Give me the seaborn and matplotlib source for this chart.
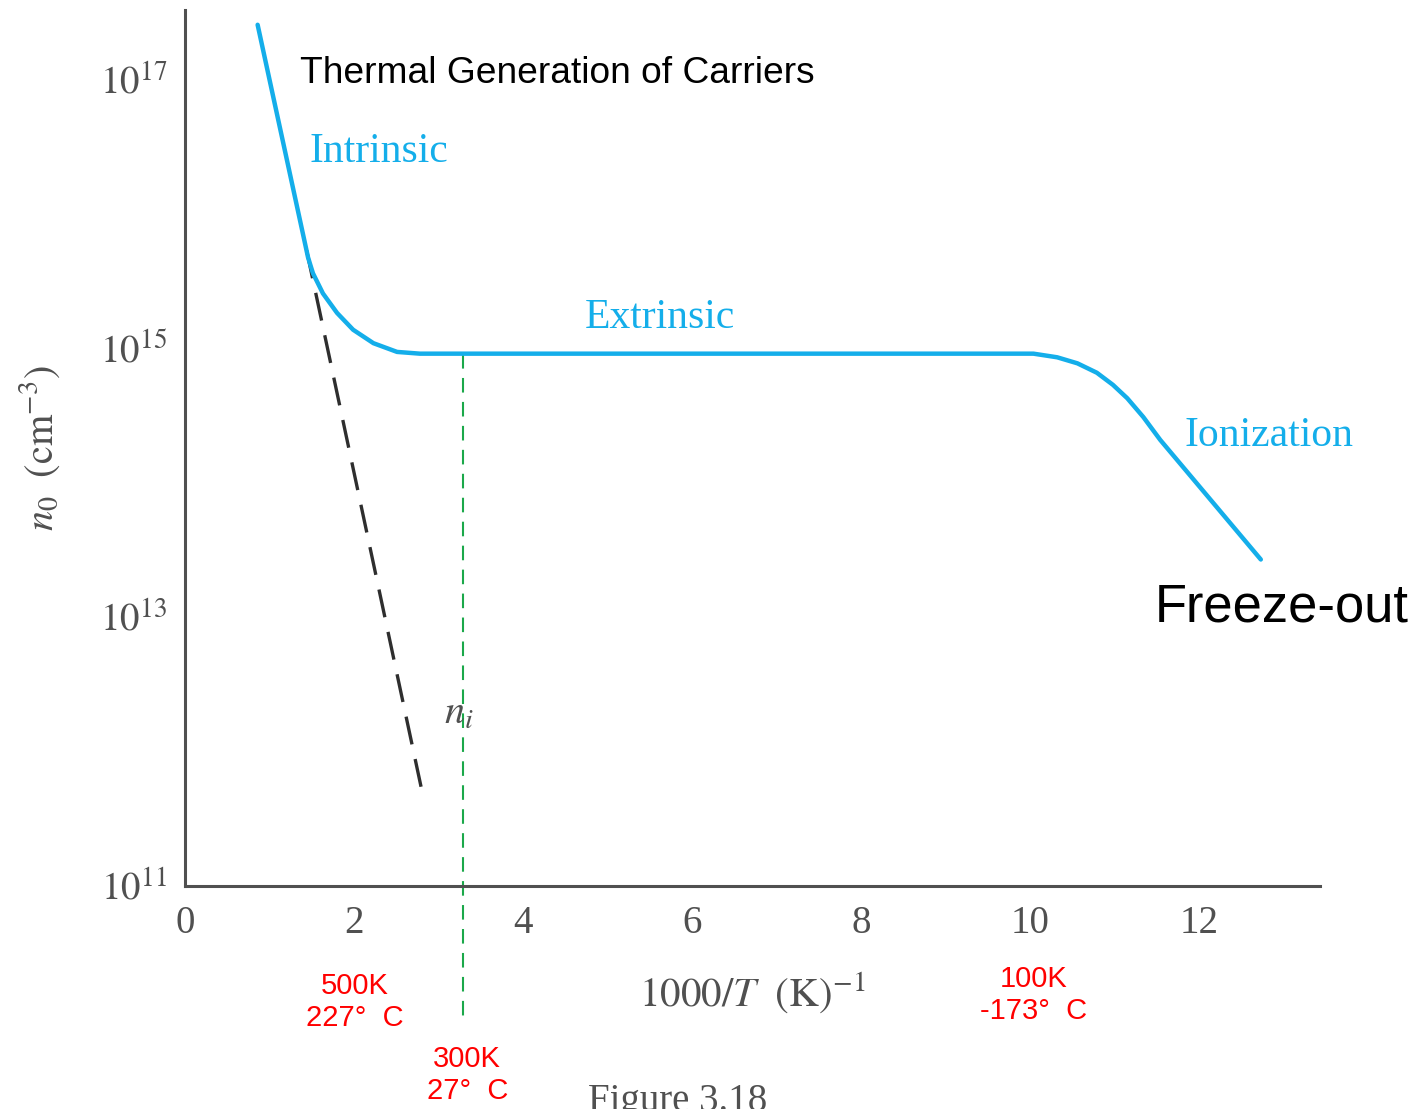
import numpy as np
import seaborn as sns
import matplotlib.pyplot as plt
from matplotlib.ticker import NullLocator

# electron concentration curve, 1000/T vs log10(n0)
curve_x = [0.86, 1.456, 1.485, 1.515, 1.633, 1.80, 1.99, 2.23, 2.51, 2.78, 4.0, 6.0, 8.0,
           10.04, 10.32, 10.56, 10.79, 10.98, 11.15, 11.34, 11.54, 12.73]
curve_log10 = [17.41, 15.68, 15.62, 15.56, 15.41, 15.265, 15.14, 15.04, 14.975, 14.962,
               14.962, 14.962, 14.962,
               14.962, 14.935, 14.89, 14.82, 14.73, 14.63, 14.49, 14.32, 13.43]

# intrinsic concentration (dashed)
ni_x = [1.44, 2.80]
ni_log10 = [15.73, 11.72]

# 300 K marker
room_x = [3.29, 3.29]
room_log10 = [14.96, 9.98]

xticks = [0, 2, 4, 6, 8, 10, 12]
yticks_exp = [11, 12, 13, 14, 15, 16, 17]
ytick_labels = [r"$10^{11}$", "", r"$10^{13}$", "", r"$10^{15}$", "", r"$10^{17}$"]

sns.set_style("white")
plt.rcParams["font.family"] = ["Liberation Serif", "DejaVu Serif"]
plt.rcParams["mathtext.fontset"] = "stix"

cyan = "#14AEEA"
gray = "#505050"

fig = plt.figure(figsize=(14.27, 11.09), dpi=100)
ax = fig.add_axes([0.1296, 0.2011, 0.7954, 0.7899])
ax.set_yscale("log")

sns.lineplot(x=ni_x, y=[10 ** v for v in ni_log10], ax=ax, color="#2e2e2e", lw=2.4,
             linestyle=(0, (8.5, 4.5)), estimator=None, sort=False)
sns.lineplot(x=room_x, y=[10 ** v for v in room_log10], ax=ax, color="#1BA84A", lw=1.5,
             linestyle=(0, (7, 4.5)), estimator=None, sort=False, clip_on=False)
sns.lineplot(x=curve_x, y=[10 ** v for v in curve_log10], ax=ax, color=cyan, lw=3.2,
             estimator=None, sort=False, solid_joinstyle="round")

ax.set_xlim(0, 13.43)
ax.set_ylim(1e11, 10 ** 17.52)

ax.set_xticks(xticks)
ax.set_xticklabels([str(t) for t in xticks])
ax.set_yticks([10.0 ** e for e in yticks_exp])
ax.set_yticklabels(ytick_labels)
ax.yaxis.set_minor_locator(NullLocator())
ax.tick_params(direction="in", length=13, width=2, color=gray, labelcolor=gray,
               labelsize=28, pad=13)
ax.tick_params(axis="x", pad=14)

sns.despine(ax=ax)
for s in ["left", "bottom"]:
    ax.spines[s].set_color(gray)
    ax.spines[s].set_linewidth(2.2)

ax.set_xlabel(r"$1000/T\ \ (\mathrm{K})^{-1}$", fontsize=29.5, color=gray)
ax.xaxis.set_label_coords(0.5, -0.122)
ax.xaxis.label.set_va("center")
ax.set_ylabel(r"$n_0\;\ (\mathrm{cm}^{-3})$", fontsize=29, color=gray)
ax.yaxis.set_label_coords(-0.128, 0.5)
ax.yaxis.label.set_va("center")

sans = ["Liberation Sans", "DejaVu Sans"]
ax.text(1.36, 10 ** 16.98, "Thermal Generation of Carriers", fontsize=26.7,
        family=sans, color="black", va="baseline")
ax.text(11.48, 10 ** 12.965, "Freeze-out", fontsize=37.8, family=sans,
        color="black", va="baseline")

ax.text(1.47, 10 ** 16.39, "Intrinsic", fontsize=30, color=cyan, va="baseline")
ax.text(4.73, 10 ** 15.154, "Extrinsic", fontsize=30, color=cyan, va="baseline")
ax.text(11.83, 10 ** 14.275, "Ionization", fontsize=30, color=cyan, va="baseline")
ax.text(3.07, 10 ** 12.21, r"$n_i$", fontsize=29, color=gray, va="baseline")

red_labels = ["500K\n227°  C", "300K\n27°  C", "100K\n-173°  C"]
red_x = [2.01, 3.34, 10.04]
red_log10 = [10.136, 9.593, 10.189]
for lab, xv, yv in zip(red_labels, red_x, red_log10):
    ax.text(xv, 10 ** yv, lab, fontsize=21, family=sans, color="#FF0000",
            ha="center", va="center", linespacing=1.15)

# caption is cut by the bottom edge in the original too
fig.text(588 / 1427, -0.002, "Figure 3.18", fontsize=28, color=gray, va="baseline")

fig.savefig("out.png", dpi=100)
